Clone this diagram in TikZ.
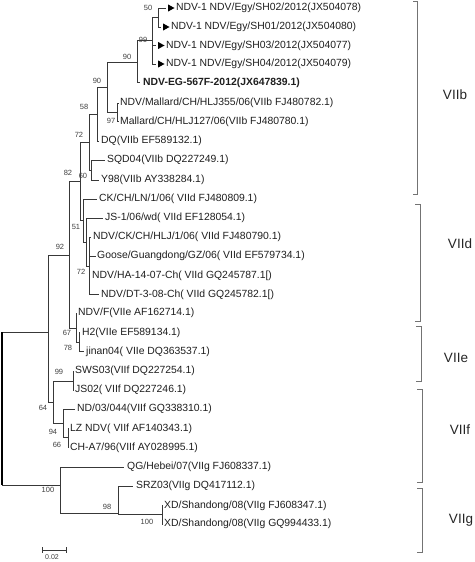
\documentclass[tikz,border=0pt]{standalone}
\usepackage{fontspec}
\setmainfont{Liberation Sans}
\begin{document}
\begin{tikzpicture}[x=1pt,y=-1pt,
  br/.style={draw=black!78, line width=0.75pt},
  leaf/.style={anchor=west, inner sep=0pt, font=\fontsize{10.4}{12}\selectfont, text=black!88},
  bs/.style={inner sep=0pt, font=\fontsize{7.5}{9}\selectfont, text=black!75},
  clade/.style={inner sep=0pt, font=\fontsize{13.5}{16}\selectfont, text=black!85},
  brk/.style={draw=black!55, line width=0.6pt},
  tri/.style={fill=black}
]
\useasboundingbox[fill=white] (0,0) rectangle (474,562);

% ---------- leaves ----------
\node[leaf] (l1) at (176,8) {NDV-1 NDV/Egy/SH02/2012(JX504078)};
\node[leaf] (l2) at (171,27) {NDV-1 NDV/Egy/SH01/2012(JX504080)};
\node[leaf] (l3) at (166,45.5) {NDV-1 NDV/Egy/SH03/2012(JX504077)};
\node[leaf] (l4) at (166,64) {NDV-1 NDV/Egy/SH04/2012(JX504079)};
\node[leaf,font=\fontsize{10.4}{12}\selectfont\bfseries] (l5) at (143,82.5) {NDV-EG-567F-2012(JX647839.1)};
\node[leaf] (l6) at (120,103) {NDV/Mallard/CH/HLJ355/06(VIIb FJ480782.1)};
\node[leaf] (l7) at (120,121.5) {Mallard/CH/HLJ127/06(VIIb FJ480780.1)};
\node[leaf] (l8) at (101,141) {DQ(VIIb EF589132.1)};
\node[leaf] (l9) at (107,160) {SQD04(VIIb DQ227249.1)};
\node[leaf] (l10) at (101,180) {Y98(VIIb AY338284.1)};
\node[leaf] (l11) at (99,199) {CK/CH/LN/1/06( VIId FJ480809.1)};
\node[leaf] (l12) at (105,218) {JS-1/06/wd( VIId EF128054.1)};
\node[leaf] (l13) at (93,237) {NDV/CK/CH/HLJ/1/06( VIId FJ480790.1)};
\node[leaf] (l14) at (97,256) {Goose/Guangdong/GZ/06( VIId EF579734.1)};
\node[leaf] (l15) at (92,275.5) {NDV/HA-14-07-Ch( VIId GQ245787.1[)};
\node[leaf] (l16) at (101,294.5) {NDV/DT-3-08-Ch( VIId GQ245782.1[)};
\node[leaf] (l17) at (78,313) {NDV/F(VIIe AF162714.1)};
\node[leaf] (l18) at (82,332.5) {H2(VIIe EF589134.1)};
\node[leaf] (l19) at (86,351.5) {jinan04( VIIe DQ363537.1)};
\node[leaf] (l20) at (75,371) {SWS03(VIIf DQ227254.1)};
\node[leaf] (l21) at (75,390) {JS02( VIIf DQ227246.1)};
\node[leaf] (l22) at (77,409) {ND/03/044(VIIf GQ338310.1)};
\node[leaf] (l23) at (70,428.5) {LZ NDV( VIIf AF140343.1)};
\node[leaf] (l24) at (70,447.5) {CH-A7/96(VIIf AY028995.1)};
\node[leaf] (l25) at (127,467) {QG/Hebei/07(VIIg FJ608337.1)};
\node[leaf] (l26) at (136,486) {SRZ03(VIIg DQ417112.1)};
\node[leaf] (l27) at (164,505.5) {XD/Shandong/08(VIIg FJ608347.1)};
\node[leaf] (l28) at (164,524) {XD/Shandong/08(VIIg GQ994433.1)};

% ---------- internal nodes ----------
\coordinate (root) at (2,410);
\coordinate (nA) at (48,332);
\coordinate (n92) at (69,255);
\coordinate (n82) at (80,181);
\coordinate (n72a) at (89,142);
\coordinate (n58) at (97,114);
\coordinate (n90) at (107,87);
\coordinate (nX) at (137,62);
\coordinate (n99) at (152,40);
\coordinate (n50) at (158,17.5);
\coordinate (n97) at (117,112);
\coordinate (n60) at (91,170);
\coordinate (n51) at (83,220);
\coordinate (nJS) at (86,242);
\coordinate (n72b) at (89,266);
\coordinate (n67) at (76,328);
\coordinate (n78) at (79,342);
\coordinate (n64) at (53,402);
\coordinate (n99f) at (73,381);
\coordinate (nND) at (63,423);
\coordinate (n66) at (68,437);
\coordinate (nG) at (60,485);
\coordinate (n98) at (118,513);
\coordinate (nXD) at (162,514);

% ---------- branches ----------
\draw[br] (root) |- (nA);
\draw[br] (root) |- (nG);
\draw[line width=2.4pt] (root |- nA) -- (root |- nG);
\draw[br] (nA) |- (n92);
\draw[br] (nA) |- (n64);
\draw[br] (n92) |- (n82);
\draw[br] (n92) |- (n67);
\draw[br] (n82) |- (n72a);
\draw[br] (n82) |- (n51);
\draw[br] (n72a) |- (n58);
\draw[br] (n72a) |- (n60);
\draw[br] (n58) |- (n90);
\draw[br] (n58) |- ([xshift=-2pt]l8.west);
\draw[br] (n90) |- (nX);
\draw[br] (n90) |- (n97);
\draw[br] (nX) |- (n99);
\draw[br] (nX) |- ([xshift=-3pt]l5.west);
\draw[br] (n99) |- (n50);
\draw[br] (n99) |- ([xshift=-10pt]l3.west);
\draw[br] (n99) |- ([xshift=-10pt]l4.west);
\draw[br] (n50) |- ([xshift=-10pt]l1.west);
\draw[br] (n50) |- ([xshift=-10pt]l2.west);
\draw[br] (n97) |- ([xshift=-1.5pt]l6.west);
\draw[br] (n97) |- ([xshift=-1.5pt]l7.west);
\draw[br] (n60) |- ([xshift=-2pt]l9.west);
\draw[br] (n60) |- ([xshift=-2pt]l10.west);
\draw[br] (n51) |- ([xshift=-2pt]l11.west);
\draw[br] (n51) |- (nJS);
\draw[br] (nJS) |- ([xshift=-2pt]l12.west);
\draw[br] (nJS) |- (n72b);
\draw[br] (n72b) |- ([xshift=-2pt]l13.west);
\draw[br] (n72b) |- ([xshift=-1.5pt]l14.west);
\draw[br] (n72b) |- ([xshift=-2pt]l15.west);
\draw[br] (n72b) |- ([xshift=-2pt]l16.west);
\draw[br] (n67) |- ([xshift=-1.5pt]l17.west);
\draw[br] (n67) |- (n78);
\draw[br] (n78) |- ([xshift=-2pt]l18.west);
\draw[br] (n78) |- ([xshift=-2pt]l19.west);
\draw[br] (n64) |- (n99f);
\draw[br] (n64) |- (nND);
\draw[br] (n99f) |- ([xshift=-1.5pt]l20.west);
\draw[br] (n99f) |- ([xshift=-1.5pt]l21.west);
\draw[br] (nND) |- ([xshift=-2pt]l22.west);
\draw[br] (nND) |- (n66);
\draw[br] (n66) |- ([xshift=-1.5pt]l23.west);
\draw[br] (n66) |- ([xshift=-1.5pt]l24.west);
\draw[br] (nG) |- ([xshift=-3pt]l25.west);
\draw[br] (nG) |- (n98);
\draw[br] (n98) |- ([xshift=-3pt]l26.west);
\draw[br] (n98) |- (nXD);
\draw[br] (nXD) |- ([xshift=-1.5pt]l27.west);
\draw[br] (nXD) |- ([xshift=-1.5pt]l28.west);

% ---------- arrowheads on the new isolates ----------
\foreach \l in {l1,l2,l3,l4}{
  \fill[tri] ([xshift=-8pt,yshift=3.6pt]\l.west) -- ([xshift=-1.5pt]\l.west) -- ([xshift=-8pt,yshift=-3.6pt]\l.west) -- cycle;
}

% ---------- bootstrap values ----------
\node[bs] (b50) at (148,8) {50};
\node[bs] (b99) at (143,40) {99};
\node[bs] (b90a) at (127,57) {90};
\node[bs] (b90b) at (97,81) {90};
\node[bs] (b97) at (111,121) {97};
\node[bs] (b58) at (84,107) {58};
\node[bs] (b72a) at (79,135) {72};
\node[bs] (b82) at (68,173) {82};
\node[bs] (b60) at (83,176) {60};
\node[bs] (b92) at (60,247) {92};
\node[bs] (b51) at (76,227) {51};
\node[bs] (b72b) at (81,272) {72};
\node[bs] (b67) at (67,333) {67};
\node[bs] (b78) at (68,348) {78};
\node[bs] (b99f) at (59,372) {99};
\node[bs] (b64) at (43,408) {64};
\node[bs] (b94) at (53,432) {94};
\node[bs] (b66) at (57,445) {66};
\node[bs] (b100a) at (48,490) {100};
\node[bs] (b98) at (107,507) {98};
\node[bs] (b100b) at (147,522) {100};

% ---------- clade brackets ----------
\draw[brk] (413,1) -- (417,1) -- (417,194) -- (413,194);
\node[clade] (cb) at (455,95) {VIIb};
\draw[brk] (415,204) -- (420,204) -- (420,321) -- (415,321);
\node[clade] (cd) at (460,244) {VIId};
\draw[brk] (416,326) -- (421,326) -- (421,381) -- (416,381);
\node[clade] (ce) at (456,358) {VIIe};
\draw[brk] (417,389) -- (422,389) -- (422,482) -- (417,482);
\node[clade] (cf) at (460,430) {VIIf};
\draw[brk] (417,488) -- (422,488) -- (422,552) -- (417,552);
\node[clade] (cg) at (461,520) {VIIg};

% ---------- scale bar ----------
\coordinate (sb1) at (42,550);
\coordinate (sb2) at (66,550);
\draw[br] (sb1) -- (sb2);
\draw[br] ([yshift=3pt]sb1) -- ([yshift=-3pt]sb1);
\draw[br] ([yshift=3pt]sb2) -- ([yshift=-3pt]sb2);
\node[bs,font=\fontsize{7}{8}\selectfont] (sbl) at (52,557.5) {0.02};
\end{tikzpicture}
\end{document}
